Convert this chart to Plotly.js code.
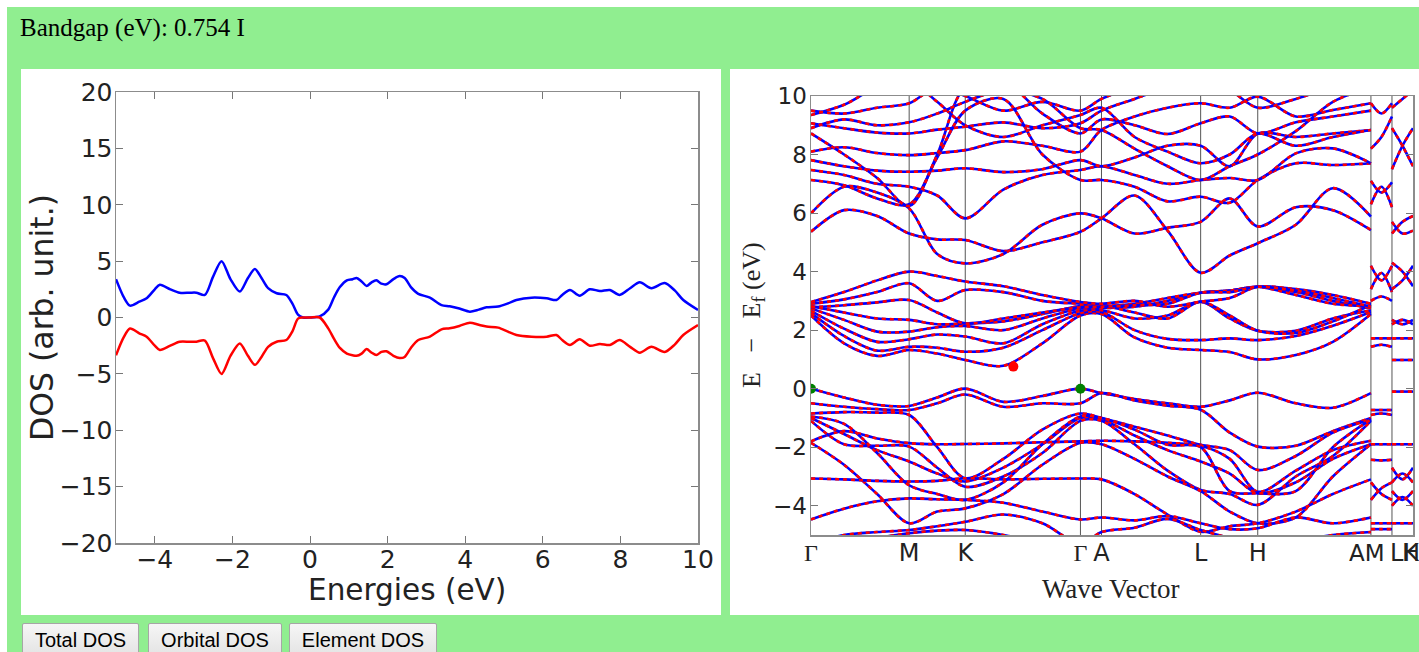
<!DOCTYPE html>
<html><head><meta charset="utf-8">
<script src="https://cdn.plot.ly/plotly-3.0.1.min.js"></script>
<style>
body{margin:0;background:#fff;width:1419px;height:652px;overflow:hidden;position:relative}
#green{position:absolute;left:7px;top:7px;width:1412px;height:645px;background:#90ee90}
#hdr{position:absolute;left:20px;top:14px;font-family:"Liberation Serif",serif;font-size:25px;color:#000}
.panel{position:absolute;background:#fff}
#p1{left:21px;top:69px;width:700px;height:546px}
#p2{left:730px;top:69px;width:689px;height:546px}
#plot{position:absolute;left:0;top:0;width:1419px;height:652px}
.btn{position:absolute;top:623px;height:34px;font-family:"Liberation Sans",Arial,sans-serif;font-size:20px;background:linear-gradient(#f6f6f6,#e3e3e3);border:1px solid #a6a6a6;border-radius:2px;color:#000;padding:0;text-align:center}
</style></head><body>
<div id="green"></div>
<div id="hdr">Bandgap (eV): 0.754 I</div>
<div class="panel" id="p1"></div>
<div class="panel" id="p2"></div>
<div id="plot"></div>
<button class="btn" style="left:22px;width:117px">Total DOS</button>
<button class="btn" style="left:148px;width:134px">Orbital DOS</button>
<button class="btn" style="left:289px;width:148px">Element DOS</button>
<script>
// ---------- DOS data ----------
const dosEnergy = [-5.0,-4.8,-4.64,-4.4,-4.21,-4.0,-3.87,-3.6,-3.36,-3.1,-2.93,-2.71,-2.5,-2.28,-2.05,-1.81,-1.6,-1.42,-1.25,-1.08,-0.86,-0.61,-0.45,-0.31,-0.18,0.0,0.25,0.47,0.62,0.77,0.95,1.1,1.2,1.33,1.46,1.58,1.71,1.84,1.97,2.15,2.31,2.44,2.6,2.79,3.09,3.39,3.6,3.85,4.12,4.35,4.55,4.85,5.1,5.32,5.71,6.1,6.35,6.5,6.7,6.95,7.21,7.47,7.73,7.98,8.25,8.5,8.8,9.14,9.4,9.62,10.0];
const dosUp = [3.4,1.8,1.05,1.4,1.7,2.5,2.9,2.5,2.2,2.2,2.2,2.0,3.6,5.0,3.4,2.3,3.5,4.3,3.5,2.6,2.15,2.0,1.2,0.25,0.0,0.0,0.1,0.7,1.8,2.7,3.3,3.4,3.5,3.2,2.8,3.1,3.3,3.0,2.95,3.4,3.68,3.5,2.7,2.1,1.76,1.1,1.0,0.8,0.52,0.7,0.9,0.97,1.25,1.55,1.76,1.7,1.55,2.0,2.44,1.94,2.5,2.35,2.44,2.0,2.6,3.12,2.6,3.06,2.4,1.55,0.67];
const dosDown = [-3.35,-1.75,-0.98,-1.4,-1.7,-2.5,-2.88,-2.5,-2.15,-2.15,-2.14,-2.05,-3.6,-5.0,-3.4,-2.3,-3.4,-4.2,-3.5,-2.6,-2.15,-2.0,-1.2,-0.1,0.0,0.0,0.0,-0.96,-1.9,-2.7,-3.2,-3.35,-3.4,-3.2,-2.8,-3.1,-3.33,-3.05,-3.0,-3.4,-3.6,-3.5,-2.7,-2.0,-1.7,-1.05,-0.96,-0.75,-0.46,-0.65,-0.8,-0.9,-1.25,-1.55,-1.7,-1.7,-1.55,-2.0,-2.44,-1.94,-2.5,-2.35,-2.44,-2.0,-2.6,-3.12,-2.6,-3.06,-2.4,-1.55,-0.67];

// ---------- Band structure data ----------
const kLabels = ['<span style="font-family:Liberation Serif">Γ</span>',"M","K",'<span style="font-family:Liberation Serif">Γ</span>',"A","L","H"];
const kTicks  = [0, 98, 154, 269, 290, 389, 446];
const kLines  = [98, 154, 269, 290, 389, 446, 559, 580];
const kEndLabels = ["AM", "L", "K", "H"];
//               Γ   .   .   M   .    K    .    .    Γ    A    .    .    L    .    H    .    .    A
const kPath   = [0, 33, 66, 98, 126, 154, 192, 231, 269, 290, 323, 356, 389, 418, 446, 484, 521, 559];
const kSeg1   = [559, 569.5, 580];
const kSeg2   = [580, 590.5, 601];

// valence bands
const vb1  = [0,-0.3,-0.55,-0.59,-0.3,0,-0.45,-0.25,0,-0.15,-0.35,-0.5,-0.62,-0.4,-0.14,-0.5,-0.65,-0.15];
const vb2  = [-0.5,-0.62,-0.7,-0.73,-0.5,-0.2,-0.62,-0.5,-0.5,-0.15,-0.4,-0.58,-0.72,-1.5,-1.98,-1.95,-1.45,-1.0];
const vb3  = [-0.85,-0.8,-0.82,-0.9,-2.0,-3.06,-2.4,-1.4,-0.85,-1.0,-1.3,-1.6,-1.92,-2.1,-2.78,-2.3,-1.5,-1.05];
const vb4  = [-1.8,-1.45,-1.7,-1.86,-1.9,-1.89,-1.87,-1.83,-1.8,-1.78,-1.8,-1.85,-1.95,-2.4,-3.52,-2.8,-2.1,-1.78];
const vb5  = [-1.0,-1.55,-2.1,-2.49,-2.9,-3.17,-2.7,-1.9,-1.0,-1.05,-1.6,-2.1,-2.49,-2.9,-3.57,-3.2,-2.4,-1.9];
const vb6  = [-1.1,-1.9,-1.95,-1.98,-2.7,-3.35,-3.0,-2.2,-1.1,-1.1,-1.9,-2.8,-3.46,-3.6,-3.97,-3.0,-2.3,-1.1];
const vb7  = [-1.85,-2.6,-3.6,-4.6,-4.2,-4.09,-3.6,-2.6,-1.85,-1.9,-2.4,-3.0,-3.5,-4.2,-4.6,-4.4,-3.0,-1.9];
const vb8  = [-3.07,-3.1,-3.15,-3.17,-3.15,-3.06,-3.1,-3.08,-3.07,-3.1,-3.6,-4.3,-4.89,-4.7,-4.6,-4.2,-3.6,-3.1];
const vb9  = [-4.47,-4.1,-3.85,-3.75,-3.78,-3.8,-3.9,-4.2,-4.47,-4.4,-4.5,-4.35,-4.6,-4.8,-4.77,-4.4,-4.6,-4.4];
const vb10 = [-5.3,-5.0,-4.9,-4.83,-4.7,-4.55,-4.3,-4.6,-5.3,-4.9,-4.75,-4.45,-4.83,-5.1,-5.3,-5.2,-5.0,-4.9];
const vb11 = [-5.5,-5.3,-5.1,-4.94,-4.85,-4.83,-5.0,-5.3,-5.5,-5.4,-5.3,-5.2,-5.3,-5.4,-5.5,-5.4,-5.3,-5.4];
const vb12 = [-0.95,-1.2,-2.2,-3.3,-3.6,-3.8,-3.2,-1.9,-0.95,-1.0,-1.4,-1.92,-2.0,-3.5,-3.57,-3.5,-2.0,-1.05];

// conduction bands
const cb1  = [2.5,1.55,1.12,1.32,1.2,0.98,0.78,1.55,2.5,2.55,1.75,1.4,1.32,1.25,1.0,1.15,1.6,2.55];
const cb2  = [2.58,1.8,1.3,1.43,1.4,1.26,1.4,2.0,2.58,2.62,2.0,1.7,1.66,1.72,1.66,1.8,2.15,2.62];
const cb3  = [2.66,2.05,1.6,1.69,1.85,1.78,1.55,2.2,2.66,2.68,2.4,2.5,2.97,2.4,1.98,1.98,2.4,2.68];
const cb4  = [2.74,2.35,1.95,1.95,2.1,2.14,2.0,2.4,2.74,2.75,2.8,3.0,3.28,3.35,3.48,3.3,3.0,2.75];
const cb5  = [2.82,2.6,2.4,2.35,2.2,2.23,2.3,2.55,2.82,2.82,2.9,3.1,3.28,3.35,3.48,3.2,2.9,2.82];
const cb6  = [2.9,3.05,3.3,3.6,3.0,3.37,3.3,3.0,2.9,2.86,2.6,2.4,2.97,2.5,1.98,1.9,2.3,2.86];
const cb7  = [2.96,3.3,3.7,4.0,3.85,3.66,3.5,3.2,2.96,2.9,3.0,2.8,2.97,3.1,3.48,3.4,3.2,2.9];
const cb8  = [2.78,2.85,2.95,3.03,2.6,2.23,2.4,2.6,2.78,2.8,2.85,2.9,3.28,3.3,3.48,3.35,3.1,2.8];
const cb9  = [5.36,6.1,5.9,5.3,5.1,5.08,4.7,5.0,5.36,5.82,6.6,5.4,3.96,4.55,4.97,5.6,6.85,5.88];
const cb10 = [5.99,6.9,6.7,6.16,4.6,4.28,4.6,5.6,5.99,5.82,5.3,5.5,5.7,6.5,5.54,6.2,6.1,5.42];
const cb11 = [7.13,6.95,6.5,6.3,7.9,9.5,9.9,8.0,7.13,7.13,6.9,6.4,6.56,6.35,7.13,7.7,7.64,7.7];
const cb12 = [7.47,7.3,7.0,6.9,6.6,5.82,6.8,7.3,7.47,7.6,7.3,7.0,7.13,7.2,7.13,8.04,8.21,7.7];
const cb13 = [7.81,7.6,7.45,7.41,7.45,7.53,7.4,7.5,7.81,7.6,7.9,8.3,8.3,7.6,8.72,8.6,8.72,8.84];
const cb14 = [8.1,8.25,8.05,7.98,8.05,8.15,8.45,8.3,8.1,8.84,9.3,9.6,9.75,9.6,9.98,9.3,9.52,9.75];
const cb15 = [8.72,8.0,7.2,6.24,8.0,10.3,10.5,9.4,8.72,9.2,9.0,8.7,9.07,9.3,8.72,9.1,9.3,9.5];
const cb16 = [9.07,8.9,8.75,8.72,8.85,8.95,9.1,8.9,9.07,9.5,9.9,10.3,10.5,10.2,9.6,9.9,10.3,10.4];
const cb17 = [9.35,9.7,10.3,10.5,9.8,9.0,8.6,9.0,9.35,9.6,8.6,8.1,7.7,8.0,8.72,8.3,8.6,8.84];
const cb18 = [9.5,9.4,9.6,9.75,10.3,10.0,9.5,9.8,9.5,9.9,10.3,10.5,10.5,10.4,10.3,10.5,10.5,10.4];
const cb19 = [8.9,9.2,9.0,9.1,9.4,9.8,10.2,9.9,8.9,8.84,8.2,7.6,7.13,7.6,8.0,8.8,9.8,10.3];

// short segments at the end of the path
const s1b = [[9.75,9.4,9.75],[8.2,8.6,9.3],[7.1,6.7,7.05],[6.3,6.9,6.2],[4.2,3.7,4.2],[3.4,3.95,3.3],[3.0,3.15,3.0],[1.72,1.72,1.72],[1.43,1.5,1.43],[-0.73,-0.73,-0.73],[-0.9,-0.85,-0.9],[-1.9,-1.9,-1.9],[-2.43,-2.45,-2.43],[-3.2,-3.6,-3.8],[-3.8,-3.4,-3.2],[-4.6,-4.6,-4.6],[-4.8,-4.8,-4.8]];
const s2b = [[9.6,9.9,10.2],[8.9,8.3,7.6],[7.5,8.3,8.9],[5.7,5.3,5.4],[5.3,5.7,5.9],[4.3,4.0,3.5],[3.4,3.7,4.2],[2.35,2.2,2.35],[2.2,2.35,2.2],[1.72,1.72,1.72],[0.98,0.98,0.98],[-0.1,-0.1,-0.1],[-1.9,-1.9,-1.9],[-2.7,-3.1,-2.7],[-3.2,-2.9,-3.2],[-3.5,-3.8,-3.5],[-4.0,-3.7,-4.0],[-4.6,-4.6,-4.6]];

const cbmPoint = {k: 202, e: 0.754};
const vbmPoints = {k: [0, 269], e: [0, 0]};

// ---------- build traces ----------
const traces = [];
traces.push({x: dosEnergy, y: dosUp, type:'scatter', mode:'lines', line:{color:'#0000ff', width:2.5, shape:'spline', smoothing:0.8}, xaxis:'x', yaxis:'y', hoverinfo:'skip'});
traces.push({x: dosEnergy, y: dosDown, type:'scatter', mode:'lines', line:{color:'#ff0000', width:2.5, shape:'spline', smoothing:0.8}, xaxis:'x', yaxis:'y', hoverinfo:'skip'});

function addBand(xs, ys){
  traces.push({x: xs, y: ys, type:'scatter', mode:'lines', line:{color:'#0000ff', width:2.6, shape:'spline', smoothing:0.9}, xaxis:'x2', yaxis:'y2', hoverinfo:'skip'});
  traces.push({x: xs, y: ys, type:'scatter', mode:'lines', line:{color:'#ff0000', width:2.6, shape:'spline', smoothing:0.9, dash:'4px,4px'}, xaxis:'x2', yaxis:'y2', hoverinfo:'skip'});
}
[vb1,vb2,vb3,vb4,vb5,vb6,vb7,vb8,vb9,vb10,vb11,vb12,
 cb1,cb2,cb3,cb4,cb5,cb6,cb7,cb8,cb9,cb10,cb11,cb12,cb13,cb14,cb15,cb16,cb17,cb18,cb19].forEach(b => addBand(kPath, b));
s1b.forEach(b => addBand(kSeg1, b));
s2b.forEach(b => addBand(kSeg2, b));

traces.push({x:[cbmPoint.k], y:[cbmPoint.e], type:'scatter', mode:'markers', marker:{color:'#ff0000', size:10}, xaxis:'x2', yaxis:'y2', hoverinfo:'skip'});
traces.push({x:vbmPoints.k, y:vbmPoints.e, type:'scatter', mode:'markers', marker:{color:'#008000', size:10}, xaxis:'x2', yaxis:'y2', hoverinfo:'skip'});

const W = 1419, H = 652;
const px = v => v / W, py = v => (H - v) / H;
const frame = {showline:true, linecolor:'#8c8c8c', linewidth:1.5, mirror:'ticks', zeroline:false, showgrid:false, ticks:'inside', ticklen:7, tickcolor:'#777', tickwidth:1};
const dfont = (s) => ({family:'DejaVu Sans, sans-serif', size:s, color:'#222'});

const shapes = kLines.map(k => ({type:'line', xref:'x2', yref:'y2 domain', x0:k, x1:k, y0:0, y1:1, line:{color:'#555', width:1}, layer:'below'}));

const endLabelX = [1387, 1388, 1411, 1411];
const endLabelAnchor = ['right', 'left', 'center', 'center'];
const annotations = [
  {text:'Energies (eV)', xref:'paper', yref:'paper', x:px(407), y:py(590), showarrow:false, xanchor:'center', yanchor:'middle', font:dfont(29.5)},
  {text:'DOS (arb. unit.)', xref:'paper', yref:'paper', x:px(42), y:py(318), showarrow:false, textangle:-90, xanchor:'center', yanchor:'middle', font:dfont(31.5)},
  {text:'E\u2002 −\u2002 E<sub>f</sub> (eV)', xref:'paper', yref:'paper', x:px(753), y:py(315), showarrow:false, textangle:-90, xanchor:'center', yanchor:'middle', font:{family:'Liberation Serif, serif', size:26, color:'#222'}},
  {text:'Wave Vector', xref:'paper', yref:'paper', x:px(1111), y:py(589), showarrow:false, xanchor:'center', yanchor:'middle', font:{family:'Liberation Serif, serif', size:27, color:'#222'}}
];
kEndLabels.forEach((t, i) => annotations.push({text:t, xref:'paper', yref:'paper', x:px(endLabelX[i]), y:py(553), showarrow:false, xanchor:endLabelAnchor[i], yanchor:'middle', font:dfont(i === 0 ? 23 : 24)}));

const layout = {
  width: W, height: H, margin:{l:0,r:0,t:0,b:0}, showlegend:false,
  paper_bgcolor:'rgba(0,0,0,0)', plot_bgcolor:'rgba(0,0,0,0)',
  xaxis: Object.assign({}, frame, {domain:[px(116), px(698)], range:[-5,10], tickvals:[-4,-2,0,2,4,6,8,10], tickfont:dfont(25), tickangle:0, anchor:'y', ticklabelstandoff:-7}),
  yaxis: Object.assign({}, frame, {domain:[py(543), py(92)], range:[-20,20], tickvals:[-20,-15,-10,-5,0,5,10,15,20], tickfont:dfont(25), anchor:'x', ticklabelstandoff:-3}),
  xaxis2: {domain:[px(811), px(1413)], range:[0,601], anchor:'y2', tickvals:kTicks, ticktext:kLabels, tickangle:0, showgrid:false, zeroline:false, showline:true, linecolor:'#8c8c8c', linewidth:1.5, mirror:true, ticks:'', tickfont:dfont(24), ticklabelstandoff:-4},
  yaxis2: Object.assign({}, frame, {domain:[py(535), py(96)], range:[-5,10], tickvals:[-4,-2,0,2,4,6,8,10], tickfont:dfont(23), anchor:'x2', ticklabelstandoff:-2}),
  shapes: shapes,
  annotations: annotations
};
Plotly.newPlot('plot', traces, layout, {staticPlot:true});
</script>
</body></html>
